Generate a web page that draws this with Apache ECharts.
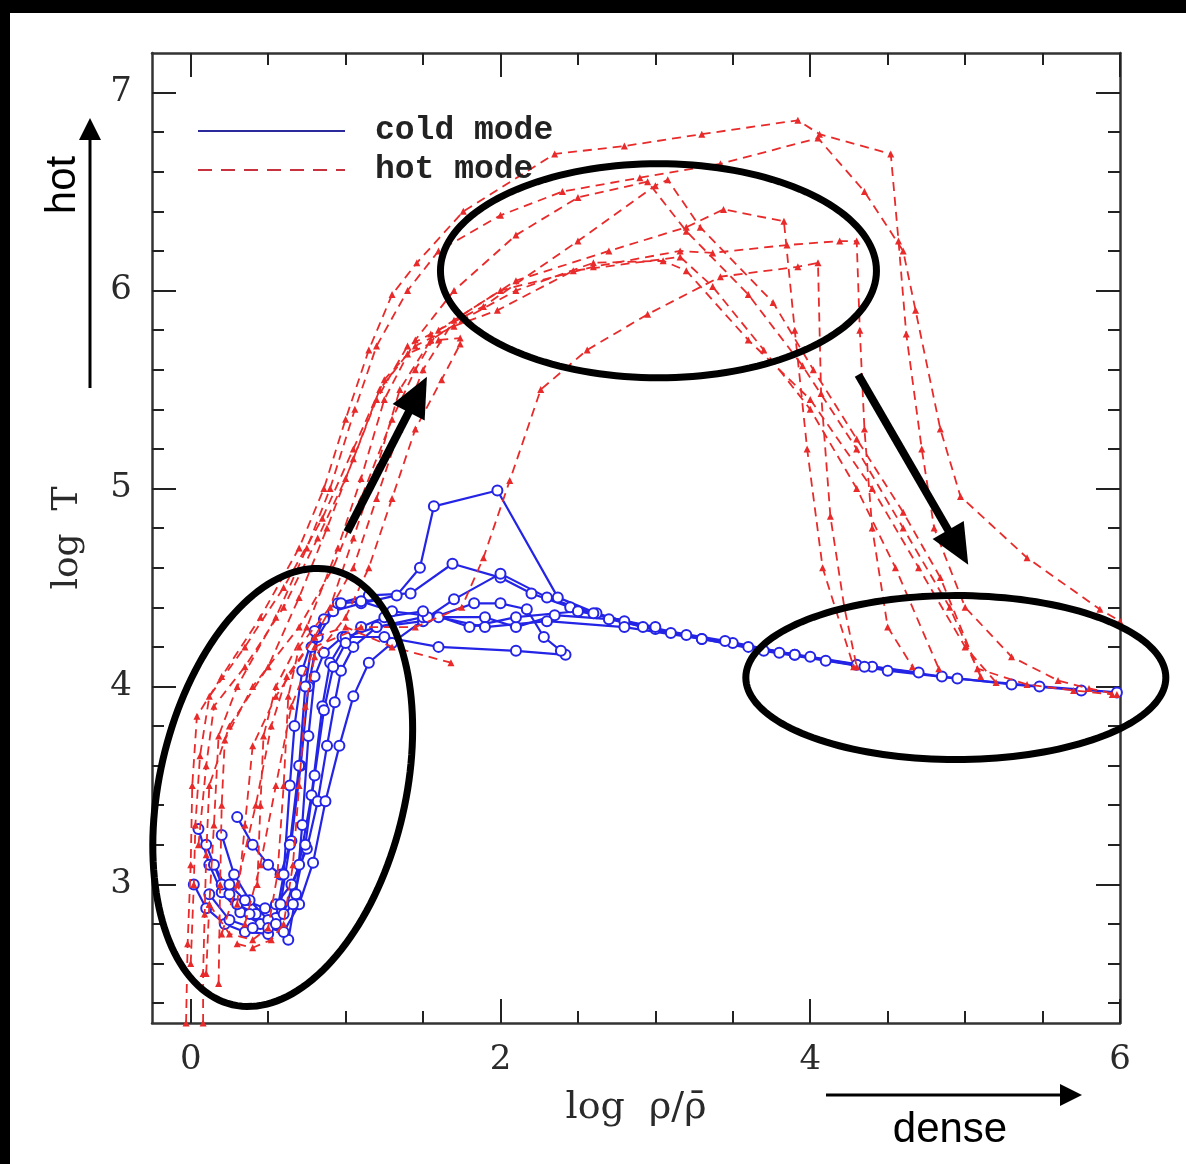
<!DOCTYPE html>
<html>
<head>
<meta charset="utf-8">
<script src="https://cdn.jsdelivr.net/npm/echarts@6/dist/echarts.min.js"></script>
<style>
  html, body { margin: 0; padding: 0; background: #fff; }
  #chart { width: 1186px; height: 1164px; }
</style>
</head>
<body>
<div id="chart"></div>
<script>
// ---- axis ticks and labels ----
const xMajorTicks = [0, 2, 4, 6];
const xTickLabels = ['0', '2', '4', '6'];
const xMinorTicks = [0.5, 1, 1.5, 2.5, 3, 3.5, 4.5, 5, 5.5];
const yMajorTicks = [3, 4, 5, 6, 7];
const yTickLabels = ['3', '4', '5', '6', '7'];
const yMinorTicks = [2.4, 2.6, 2.8, 3.2, 3.4, 3.6, 3.8, 4.2, 4.4, 4.6, 4.8,
                     5.2, 5.4, 5.6, 5.8, 6.2, 6.4, 6.6, 6.8];

// ---- cold-mode gas trajectories: [log rho/rhobar, log T] ----
const cold1 = [[0.30,3.34],[0.40,3.20],[0.50,3.10],[0.58,3.05],[0.65,3.22],[0.71,3.60],[0.76,4.00],[0.82,4.25],[0.92,4.38],[1.10,4.42],[1.33,4.46],[1.48,4.60],[1.57,4.91],[1.98,4.99],[2.37,4.45],[2.62,4.37],[2.92,4.30],[3.30,4.24],[3.70,4.18],[4.10,4.13],[4.50,4.08],[4.95,4.04],[5.48,4.00],[5.98,3.97]];
const cold2 = [[0.05,3.28],[0.12,3.10],[0.20,2.96],[0.32,2.86],[0.45,2.80],[0.55,2.83],[0.60,3.05],[0.64,3.50],[0.67,3.80],[0.72,4.08],[0.80,4.28],[0.95,4.42],[1.15,4.46],[1.42,4.47],[1.69,4.62],[2.00,4.55],[2.20,4.47],[2.45,4.40],[2.80,4.33],[3.20,4.26],[3.60,4.20],[4.00,4.15],[4.40,4.10],[4.85,4.05],[5.30,4.01],[5.75,3.98]];
const cold3 = [[0.20,3.25],[0.28,3.05],[0.38,2.92],[0.50,2.82],[0.63,2.72],[0.68,2.95],[0.72,3.30],[0.76,3.75],[0.80,4.05],[0.86,4.17],[0.98,4.25],[1.25,4.25],[1.60,4.20],[2.10,4.18],[2.42,4.16]];
const cold4 = [[0.02,3.00],[0.10,2.88],[0.22,2.80],[0.35,2.76],[0.50,2.75],[0.60,2.85],[0.70,3.10],[0.78,3.45],[0.85,3.90],[0.90,4.12],[1.00,4.25],[1.20,4.30],[1.50,4.33],[1.83,4.42],[2.00,4.42],[2.17,4.39],[2.28,4.25],[2.39,4.18]];
const cold5 = [[0.10,3.20],[0.20,3.00],[0.30,2.90],[0.42,2.85],[0.55,2.90],[0.65,3.00],[0.75,3.18],[0.82,3.42],[0.88,3.70],[0.93,3.92],[0.97,4.08],[1.05,4.20],[1.20,4.30],[1.50,4.35],[1.90,4.35],[2.10,4.30],[2.35,4.36],[2.70,4.34],[3.10,4.27],[3.50,4.22],[3.90,4.16],[4.30,4.11],[4.70,4.07]];
const cold6 = [[0.15,3.10],[0.25,2.95],[0.38,2.85],[0.50,2.78],[0.60,2.76],[0.70,2.90],[0.79,3.11],[0.87,3.42],[0.96,3.70],[1.05,3.95],[1.15,4.12],[1.30,4.22],[1.53,4.35],[1.70,4.44],[2.00,4.57],[2.30,4.45],[2.60,4.37],[3.00,4.29],[3.45,4.23],[3.90,4.16],[4.35,4.10]];
const cold7 = [[0.25,3.00],[0.35,2.92],[0.48,2.88],[0.58,2.90],[0.64,3.20],[0.70,3.60],[0.74,4.00],[0.78,4.20],[0.86,4.34],[0.97,4.42],[1.10,4.43],[1.30,4.38],[1.60,4.35],[1.90,4.30],[2.30,4.33],[2.80,4.30],[3.30,4.24],[3.80,4.17]];
const cold8 = [[0.12,2.95],[0.25,2.82],[0.40,2.78],[0.55,2.80],[0.66,2.90],[0.74,3.20],[0.80,3.55],[0.86,3.88],[0.92,4.10],[1.00,4.22],[1.10,4.30],[1.25,4.35],[1.50,4.38],[1.80,4.30],[2.10,4.35],[2.50,4.38],[3.00,4.30]];

// ---- hot-mode gas trajectories ----
const hot1 = [[-0.03,2.30],[-0.02,2.70],[0.00,3.10],[0.01,3.50],[0.04,3.85],[0.20,4.05],[0.45,4.35],[0.70,4.70],[0.86,5.00],[1.00,5.35],[1.15,5.70],[1.30,5.98],[1.46,6.14],[1.76,6.40],[2.35,6.69],[2.80,6.73],[3.30,6.79],[3.92,6.86],[4.06,6.79],[4.52,6.69],[4.57,6.25],[4.62,5.78],[4.72,5.20],[4.80,4.80],[5.00,4.40],[5.30,4.15],[5.60,4.03],[5.80,3.99],[5.98,3.96]];
const hot2 = [[0.10,2.55],[0.12,2.90],[0.15,3.30],[0.18,3.75],[0.30,4.00],[0.55,4.35],[0.75,4.70],[0.90,5.00],[1.06,5.40],[1.20,5.72],[1.40,6.00],[1.60,6.20],[2.00,6.38],[2.40,6.50],[2.90,6.57],[3.42,6.64],[4.05,6.77],[4.35,6.50],[4.60,6.20],[4.68,5.90],[4.84,5.30],[4.97,4.96],[5.40,4.65],[5.87,4.39],[6.00,4.33]];
const hot3 = [[0.05,3.20],[0.10,3.60],[0.15,3.90],[0.35,4.10],[0.60,4.40],[0.82,4.75],[1.00,5.05],[1.20,5.45],[1.40,5.72],[1.55,5.78],[1.89,5.92],[2.50,6.25],[3.00,6.53],[3.08,6.56],[3.29,6.32],[3.76,5.94],[4.02,5.60],[4.30,5.25],[4.60,4.88],[4.84,4.55],[5.08,4.09],[5.40,4.01],[5.70,3.98],[5.95,3.96]];
const hot4 = [[0.43,3.00],[0.45,3.40],[0.47,3.75],[0.55,4.00],[0.75,4.30],[0.95,4.70],[1.10,5.05],[1.25,5.45],[1.45,5.75],[1.70,6.00],[2.10,6.28],[2.50,6.47],[2.95,6.55],[3.20,6.30],[3.60,5.98],[3.95,5.62],[4.30,5.20],[4.60,4.80],[4.90,4.40],[5.10,4.05]];
const hot5 = [[0.18,2.50],[0.19,3.00],[0.20,3.40],[0.22,3.73],[0.40,4.00],[0.70,4.30],[0.92,4.60],[1.10,4.95],[1.30,5.35],[1.45,5.60],[1.60,5.80],[2.00,6.00],[2.60,6.12],[3.16,6.20],[3.37,6.19],[3.85,6.23],[4.19,6.25],[4.30,6.25],[4.32,5.80],[4.35,5.30],[4.40,4.80],[4.50,4.30],[4.66,4.10]];
const hot6 = [[0.30,2.90],[0.35,3.30],[0.40,3.70],[0.55,3.95],[0.80,4.25],[1.05,4.60],[1.20,4.95],[1.35,5.30],[1.50,5.60],[1.70,5.85],[2.10,6.05],[2.70,6.20],[3.20,6.32],[3.44,6.41],[3.83,6.35],[3.90,5.80],[3.98,5.20],[4.08,4.60],[4.28,4.10]];
const hot7 = [[0.35,2.80],[0.45,3.10],[0.55,3.50],[0.65,3.90],[0.80,4.20],[1.10,4.30],[1.45,4.30],[1.75,4.40],[1.89,4.65],[2.06,5.04],[2.26,5.50],[2.56,5.70],[2.95,5.88],[3.42,6.07],[3.92,6.12],[4.05,6.14],[4.07,5.48],[4.13,4.86],[4.22,4.40],[4.30,4.10]];
const hot8 = [[0.00,2.60],[0.02,3.00],[0.03,3.30],[0.06,3.65],[0.12,3.95],[0.35,4.20],[0.60,4.50],[0.85,4.85],[1.05,5.20],[1.25,5.55],[1.45,5.72],[1.70,5.82],[1.98,5.90],[2.47,6.10],[3.16,6.17],[3.37,6.02],[3.70,5.70],[4.00,5.40],[4.30,5.00],[4.55,4.60],[4.83,4.09]];
const hot9 = [[0.20,2.75],[0.30,3.00],[0.42,3.40],[0.52,3.80],[0.62,4.05],[0.80,4.25],[1.00,4.30],[1.30,4.20],[1.68,4.12]];
const hot10 = [[0.12,2.90],[0.25,2.75],[0.40,2.72],[0.50,2.78],[0.56,3.05],[0.60,3.50],[0.63,3.95],[0.70,4.20],[0.90,4.40],[1.05,4.75],[1.20,5.10],[1.35,5.50],[1.55,5.75],[1.75,5.85],[2.10,6.00],[2.60,6.14],[3.05,6.15],[3.20,6.10],[3.60,5.75],[4.00,5.45],[4.40,5.00],[4.70,4.60],[5.00,4.20],[5.20,4.02]];
const hot11 = [[0.08,2.30],[0.08,2.55],[0.09,2.85],[0.10,3.15],[0.12,3.50],[0.25,3.80],[0.50,4.10],[0.70,4.45],[0.88,4.80],[1.05,5.15],[1.22,5.50],[1.40,5.68],[1.60,5.75],[1.74,5.76]];
const hot12 = [[0.30,2.70],[0.40,2.68],[0.52,2.72],[0.60,2.80],[0.66,3.10],[0.70,3.50],[0.74,3.90],[0.80,4.15],[1.00,4.35],[1.15,4.60],[1.30,4.95],[1.45,5.30],[1.62,5.55],[1.74,5.73]];

const coldTracks = [cold1, cold2, cold3, cold4, cold5, cold6, cold7, cold8];
const hotTracks = [hot1, hot2, hot3, hot4, hot5, hot6, hot7, hot8, hot9, hot10, hot11, hot12];

const COLD = '#2424e6';
const HOT = '#e82a2a';
const AXIS = '#333';
const LABEL_FONT = 'DejaVu Serif';

const series = [];
coldTracks.forEach(function (t) {
  series.push({
    type: 'line', name: 'cold mode', data: t, xAxisIndex: 0, yAxisIndex: 0,
    symbol: 'emptyCircle', symbolSize: 10, showAllSymbol: true,
    lineStyle: { color: COLD, width: 2.2 },
    itemStyle: { color: COLD, borderWidth: 2.2 },
    z: 3, silent: true
  });
});
hotTracks.forEach(function (t) {
  series.push({
    type: 'line', name: 'hot mode', data: t, xAxisIndex: 0, yAxisIndex: 0,
    symbol: 'triangle', symbolSize: 7, showAllSymbol: true,
    lineStyle: { color: HOT, width: 1.8, type: [9, 6] },
    itemStyle: { color: HOT },
    z: 4, silent: true
  });
});

function xAxisDef(pos, ticks, len, withLine, withLabels) {
  return {
    type: 'value', min: -0.25, max: 6, position: pos,
    splitLine: { show: false },
    axisLine: { show: withLine, onZero: false, lineStyle: { color: AXIS, width: 2.5 } },
    axisTick: { show: true, inside: true, length: len, customValues: ticks,
                lineStyle: { color: '#222', width: 2 } },
    axisLabel: withLabels ? {
      show: true, customValues: xMajorTicks, margin: 20,
      formatter: function (v) { return xTickLabels[xMajorTicks.indexOf(v)]; },
      fontFamily: LABEL_FONT, fontSize: 34, color: '#2a2a2a'
    } : { show: false },
    name: withLabels ? 'log  \u03c1/\u03c1\u0304' : '',
    nameLocation: 'middle', nameGap: 66,
    nameTextStyle: { fontFamily: LABEL_FONT, fontSize: 38, color: '#2a2a2a' }
  };
}
function yAxisDef(pos, ticks, len, withLine, withLabels) {
  return {
    type: 'value', min: 2.3, max: 7.2, position: pos,
    splitLine: { show: false },
    axisLine: { show: withLine, onZero: false, lineStyle: { color: AXIS, width: 2.5 } },
    axisTick: { show: true, inside: true, length: len, customValues: ticks,
                lineStyle: { color: '#222', width: 2 } },
    axisLabel: withLabels ? {
      show: true, customValues: yMajorTicks, margin: 20,
      formatter: function (v) { return yTickLabels[yMajorTicks.indexOf(v)]; },
      fontFamily: LABEL_FONT, fontSize: 34, color: '#2a2a2a'
    } : { show: false },
    name: withLabels ? 'log  T' : '',
    nameLocation: 'middle', nameGap: 66,
    nameTextStyle: { fontFamily: LABEL_FONT, fontSize: 36, color: '#2a2a2a' }
  };
}

const option = {
  animation: false,
  backgroundColor: '#fff',
  grid: { left: 152, right: 66, top: 53, bottom: 141 },
  xAxis: [
    xAxisDef('bottom', xMajorTicks, 24, true, true),
    xAxisDef('bottom', xMinorTicks, 12, false, false),
    xAxisDef('top', xMajorTicks, 24, true, false),
    xAxisDef('top', xMinorTicks, 12, false, false)
  ],
  yAxis: [
    yAxisDef('left', yMajorTicks, 24, true, true),
    yAxisDef('left', yMinorTicks, 12, false, false),
    yAxisDef('right', yMajorTicks, 24, true, false),
    yAxisDef('right', yMinorTicks, 12, false, false)
  ],
  series: series
};

const chart = echarts.init(document.getElementById('chart'), null, { renderer: 'canvas' });
chart.setOption(option);

// ---- annotation overlay: highlighted regions and flow arrows ----
const regionLeft = { center: [0.594, 3.49], rx: 123, ry: 223, tiltDeg: 13 };
const regionTop = { center: [3.02, 6.10], rx: 218, ry: 107, tiltDeg: 0 };
const regionRight = { center: [4.94, 4.045], rx: 210, ry: 82, tiltDeg: 0 };
const arrowUp = { from: [1.01, 4.78], to: [1.525, 5.565] };
const arrowDown = { from: [4.31, 5.575], to: [5.02, 4.615] };

function toPx(p) { return chart.convertToPixel({ xAxisIndex: 0, yAxisIndex: 0 }, p); }

function ellipseEl(r) {
  const c = toPx(r.center);
  const a = r.tiltDeg * Math.PI / 180;
  const pts = [];
  for (let i = 0; i < 160; i++) {
    const t = i / 160 * Math.PI * 2;
    const ex = r.rx * Math.cos(t), ey = r.ry * Math.sin(t);
    pts.push([c[0] + ex * Math.cos(a) - ey * Math.sin(a),
              c[1] + ex * Math.sin(a) + ey * Math.cos(a)]);
  }
  return { type: 'polygon', shape: { points: pts }, z: 100,
           style: { fill: 'none', stroke: '#000', lineWidth: 7 } };
}

function arrowEls(t, h, w, headLen, headHalf) {
  const dx = h[0] - t[0], dy = h[1] - t[1];
  const L = Math.hypot(dx, dy);
  const ux = dx / L, uy = dy / L, nx = -uy, ny = ux;
  const bx = h[0] - ux * headLen, by = h[1] - uy * headLen;
  return [
    { type: 'line', z: 100, shape: { x1: t[0], y1: t[1], x2: bx + ux * 3, y2: by + uy * 3 },
      style: { stroke: '#000', lineWidth: w } },
    { type: 'polygon', z: 100,
      shape: { points: [[h[0], h[1]], [bx + nx * headHalf, by + ny * headHalf], [bx - nx * headHalf, by - ny * headHalf]] },
      style: { fill: '#000' } }
  ];
}

const els = [];
// page edge strips
els.push({ type: 'rect', z: 100, shape: { x: 0, y: 0, width: 1186, height: 13 }, style: { fill: '#000' } });
els.push({ type: 'rect', z: 100, shape: { x: 0, y: 0, width: 10, height: 1164 }, style: { fill: '#000' } });

// legend
els.push({ type: 'line', z: 100, shape: { x1: 198, y1: 131, x2: 345, y2: 131 }, style: { stroke: '#2a2a9c', lineWidth: 2 } });
els.push({ type: 'line', z: 100, shape: { x1: 198, y1: 170, x2: 345, y2: 170 }, style: { stroke: '#c8323e', lineWidth: 2, lineDash: [14, 9] } });
els.push({ type: 'text', z: 100, x: 375, y: 131, style: { text: 'cold mode', font: 'bold 33px "Liberation Mono"', fill: '#222', align: 'left', verticalAlign: 'middle' } });
els.push({ type: 'text', z: 100, x: 375, y: 170, style: { text: 'hot mode', font: 'bold 33px "Liberation Mono"', fill: '#222', align: 'left', verticalAlign: 'middle' } });

// region ellipses
[regionLeft, regionTop, regionRight].forEach(function (r) { els.push(ellipseEl(r)); });

// flow arrows inside the plot
arrowEls(toPx(arrowUp.from), toPx(arrowUp.to), 8, 40, 18).forEach(function (e) { els.push(e); });
arrowEls(toPx(arrowDown.from), toPx(arrowDown.to), 8, 40, 18).forEach(function (e) { els.push(e); });

// "hot" and "dense" direction markers outside the plot
arrowEls([90, 388], [90, 118], 3, 22, 11).forEach(function (e) { els.push(e); });
arrowEls([826, 1095], [1082, 1095], 3, 22, 11).forEach(function (e) { els.push(e); });
els.push({ type: 'text', z: 100, x: 63, y: 185, rotation: Math.PI / 2,
           style: { text: 'hot', font: '42px "Liberation Sans"', fill: '#000', align: 'center', verticalAlign: 'middle' } });
els.push({ type: 'text', z: 100, x: 950, y: 1130,
           style: { text: 'dense', font: '42px "Liberation Sans"', fill: '#000', align: 'center', verticalAlign: 'middle' } });

chart.setOption({ graphic: { elements: els } });
</script>
</body>
</html>
